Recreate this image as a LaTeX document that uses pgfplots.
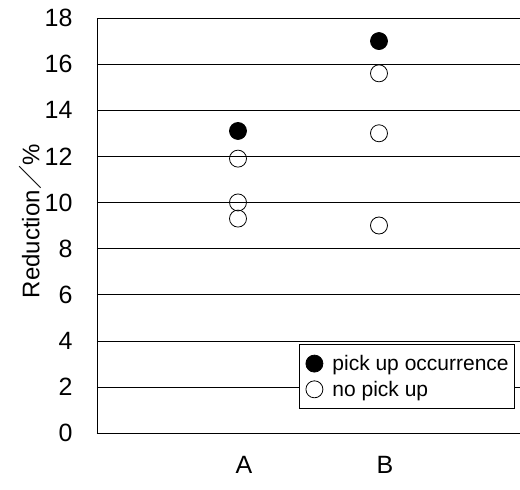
\documentclass[border=0pt]{standalone}
\usepackage{fontspec}
\setmainfont{Liberation Sans}
\newfontfamily\cjk{Noto Sans CJK JP}
\usepackage{pgfplots}
\pgfplotsset{compat=1.18}
\begin{document}
\begin{tikzpicture}
\begin{axis}[
  scale only axis, width=423pt, height=415pt,
  xmin=0, xmax=3, ymin=0, ymax=18,
  xtick={1,2}, xticklabels={A,B},
  ytick={0,2,...,18},
  axis x line*=bottom, axis y line*=left,
  axis line style={-, line width=0.8pt, black},
  ymajorgrids, grid style={black, line width=0.5pt},
  major tick length=0pt,
  /pgf/number format/assume math mode=true,
  ticklabel style={font=\fontsize{25}{29}\selectfont},
  yticklabel style={xshift=-21pt},
  xticklabel style={yshift=-20pt, xshift=6pt},
  ylabel={Reduction{\cjk ／}\%},
  every axis y label/.style={at={(axis description cs:-0.158,0.51)}, rotate=90, anchor=center,
    font=\fontsize{24}{28}\selectfont},
  legend style={at={(0.988,0.058)}, anchor=south east, draw=black, line width=0.5pt,
    font=\fontsize{21}{25}\selectfont, inner xsep=3pt, inner ysep=9pt, row sep=5pt,
    legend cell align=left, nodes={inner xsep=3pt}},
  legend image code/.code={\path[draw=none, fill=none] (0pt,0pt) -- (27pt,0pt);
    \draw[#1, mark size=8.5pt] plot coordinates {(12pt,0pt)};},
]
\addplot[only marks, mark=*, mark size=8.5pt, draw=black, fill=black, line width=0.8pt]
  coordinates {(1,13.1) (2,17.0)};
\addlegendentry{pick up occurrence}
\addplot[only marks, mark=o, mark size=8.5pt, draw=black, fill=white, line width=0.8pt]
  coordinates {(1,11.9) (1,10.0) (1,9.3) (2,15.6) (2,13.0) (2,9.0)};
\addlegendentry{no pick up}
\end{axis}
\pgfresetboundingbox
\path[use as bounding box] (-97pt,-57pt) rectangle (423pt,433pt);
\end{tikzpicture}
\end{document}
